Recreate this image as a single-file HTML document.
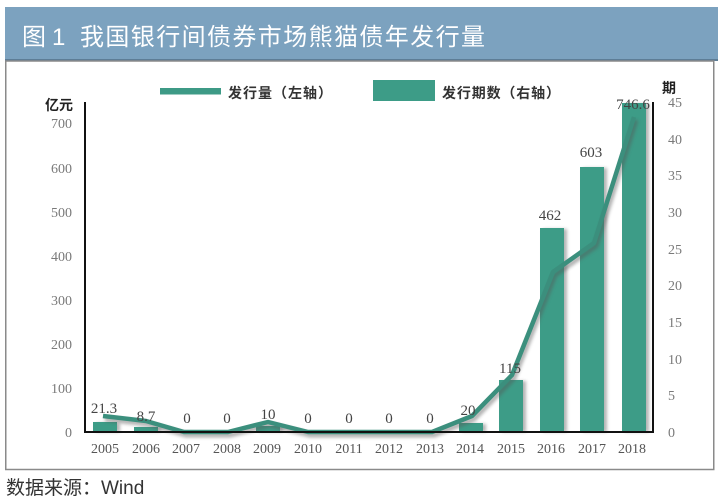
<!DOCTYPE html>
<html><head><meta charset="utf-8">
<style>
html,body{margin:0;padding:0;background:#fff;}
svg{display:block;}
</style></head>
<body>
<svg width="723" height="500" viewBox="0 0 723 500" xmlns="http://www.w3.org/2000/svg">
<defs>
<filter id="sh" x="-30%" y="-10%" width="160%" height="120%">
<feGaussianBlur stdDeviation="1.5"/>
</filter>
</defs>
<rect x="0" y="0" width="723" height="500" fill="#fff"/>
<!-- header -->
<rect x="5" y="7" width="713" height="54" fill="#7ca2bf"/>
<rect x="5" y="59" width="713" height="2" fill="#5d7d96"/>
<text x="22" y="45" font-family="Liberation Sans, Noto Sans CJK SC, sans-serif" font-size="24" fill="#fff">图</text>
<text x="52" y="45" font-family="Liberation Sans, Noto Sans CJK SC, sans-serif" font-size="24" fill="#fff">1</text>
<text x="80" y="45" font-family="Liberation Sans, Noto Sans CJK SC, sans-serif" font-size="24" fill="#fff" textLength="405">我国银行间债券市场熊猫债年发行量</text>
<!-- box -->
<rect x="5.75" y="61" width="708" height="408.5" fill="#fff" stroke="#8a8a8a" stroke-width="1.5"/>

<!-- legend -->
<rect x="160" y="88" width="61" height="6.5" fill="#3d9a86"/>
<text x="228" y="98" font-family="Liberation Sans, Noto Sans CJK SC, sans-serif" font-size="14" font-weight="bold" fill="#333" textLength="104">发行量（左轴）</text>
<rect x="373" y="80" width="62" height="21" fill="#3d9c87"/>
<text x="442" y="98" font-family="Liberation Sans, Noto Sans CJK SC, sans-serif" font-size="14" font-weight="bold" fill="#333" textLength="118">发行期数（右轴）</text>

<!-- axis titles -->
<text x="45" y="110" font-family="Liberation Sans, Noto Sans CJK SC, sans-serif" font-size="14" font-weight="bold" fill="#222">亿元</text>
<text x="662" y="93" font-family="Liberation Sans, Noto Sans CJK SC, sans-serif" font-size="14" font-weight="bold" fill="#222">期</text>

<!-- left ticks -->
<g font-family="Liberation Serif, serif" font-size="14" fill="#7a7a7a" text-anchor="end">
<text x="72" y="437">0</text>
<text x="72" y="393">100</text>
<text x="72" y="349">200</text>
<text x="72" y="305">300</text>
<text x="72" y="261">400</text>
<text x="72" y="217">500</text>
<text x="72" y="173">600</text>
<text x="72" y="128">700</text>
</g>
<!-- right ticks -->
<g font-family="Liberation Serif, serif" font-size="14" fill="#7a7a7a" text-anchor="start">
<text x="668" y="437">0</text>
<text x="668" y="400">5</text>
<text x="668" y="364">10</text>
<text x="668" y="327">15</text>
<text x="668" y="290">20</text>
<text x="668" y="254">25</text>
<text x="668" y="217">30</text>
<text x="668" y="180">35</text>
<text x="668" y="144">40</text>
<text x="668" y="107">45</text>
</g>

<!-- bar shadows -->
<g fill="#777" opacity="0.55" filter="url(#sh)">
<rect x="96" y="423" width="24" height="9"/>
<rect x="137" y="428" width="24" height="4"/>
<rect x="259" y="427" width="24" height="5"/>
<rect x="462" y="424" width="24" height="8"/>
<rect x="502" y="381" width="24" height="51"/>
<rect x="543" y="229" width="24" height="203"/>
<rect x="583" y="168" width="24" height="264"/>
<rect x="625" y="104" width="24" height="328"/>
</g>
<!-- bars -->
<g fill="#3d9c87">
<rect x="93" y="422" width="24" height="10"/>
<rect x="134" y="427" width="24" height="5"/>
<rect x="256" y="426" width="24" height="6"/>
<rect x="459" y="423" width="24" height="9"/>
<rect x="499" y="380" width="24" height="52"/>
<rect x="540" y="228" width="24" height="204"/>
<rect x="580" y="167" width="24" height="265"/>
<rect x="622" y="103" width="24" height="329"/>
</g>

<!-- line shadow -->
<polyline points="103,416 146,421 184,432 228,432 268,422 308,432 349,432 389,432 432,432 472,416 512,375 553,272 594,243 634,117" fill="none" stroke="#555" stroke-width="5" stroke-linejoin="round" opacity="0.45" filter="url(#sh)" transform="translate(2,3)"/>
<!-- line -->
<polyline points="103,416 146,421 184,432 228,432 268,422 308,432 349,432 389,432 432,432 472,416 512,375 553,272 594,243 634,117" fill="none" stroke="#3b8f7d" stroke-width="4.5" stroke-linejoin="round"/>

<!-- axes -->
<line x1="85" y1="102" x2="85" y2="433" stroke="#111" stroke-width="2"/>
<line x1="653" y1="102" x2="653" y2="433" stroke="#111" stroke-width="2"/>
<line x1="84" y1="432" x2="654" y2="432" stroke="#111" stroke-width="2"/>

<!-- data labels -->
<g font-family="Liberation Serif, serif" font-size="15" fill="#444" text-anchor="middle">
<text x="104" y="413">21.3</text>
<text x="146" y="421">8.7</text>
<text x="187" y="423">0</text>
<text x="227" y="423">0</text>
<text x="268" y="419">10</text>
<text x="308" y="423">0</text>
<text x="349" y="423">0</text>
<text x="389" y="423">0</text>
<text x="430" y="423">0</text>
<text x="468" y="415">20</text>
<text x="510" y="373">115</text>
<text x="550" y="220">462</text>
<text x="591" y="157">603</text>
<text x="633" y="109">746.6</text>
</g>

<!-- x labels -->
<g font-family="Liberation Serif, serif" font-size="14" fill="#555" text-anchor="middle">
<text x="105" y="453">2005</text>
<text x="146" y="453">2006</text>
<text x="186" y="453">2007</text>
<text x="227" y="453">2008</text>
<text x="267" y="453">2009</text>
<text x="308" y="453">2010</text>
<text x="349" y="453">2011</text>
<text x="389" y="453">2012</text>
<text x="430" y="453">2013</text>
<text x="470" y="453">2014</text>
<text x="511" y="453">2015</text>
<text x="551" y="453">2016</text>
<text x="592" y="453">2017</text>
<text x="632" y="453">2018</text>
</g>

<!-- footer -->
<text x="6" y="494" font-family="Liberation Sans, Noto Sans CJK SC, sans-serif" font-size="19" fill="#333">数据来源：Wind</text>
</svg>
</body></html>
